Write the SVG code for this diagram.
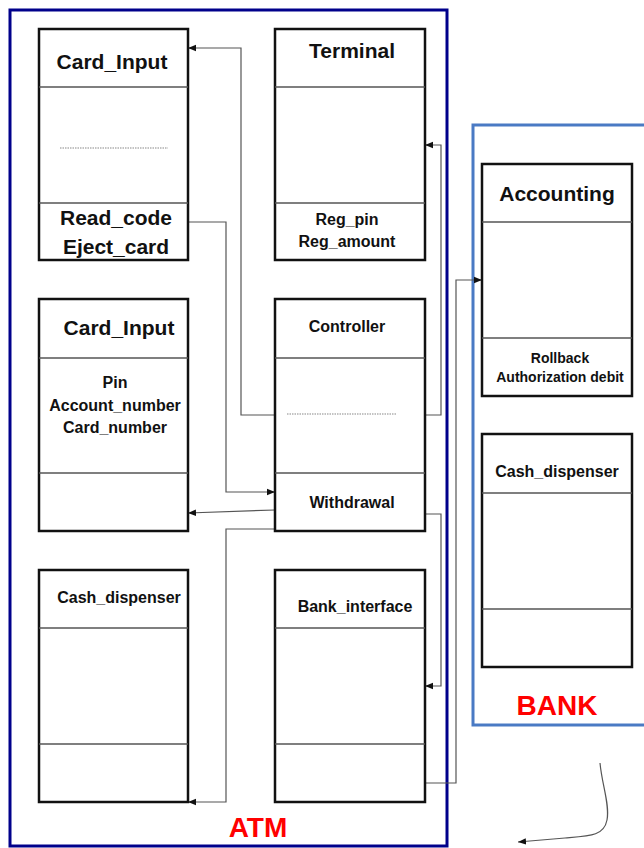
<svg xmlns="http://www.w3.org/2000/svg" width="644" height="848" viewBox="0 0 644 848">
<style>
.box{fill:#fff;stroke:#111;stroke-width:2.5}
.div{stroke:#555;stroke-width:1.5}
.dot{stroke:#888;stroke-width:1.2;stroke-dasharray:1.5 1}
.t{font-family:"Liberation Sans",Arial,sans-serif;font-weight:bold;fill:#111;text-anchor:middle}
.big{font-size:21px}
.mid{font-size:16px}
.sm{font-size:14px}
.lbl{font-family:"Liberation Sans",Arial,sans-serif;font-weight:bold;fill:#ff0000;text-anchor:middle;font-size:28px}
.c{fill:none;stroke:#555;stroke-width:1.2}
</style>
<defs>
<marker id="ah" viewBox="0 0 10 10" refX="10" refY="5" markerWidth="8" markerHeight="8" markerUnits="userSpaceOnUse" orient="auto">
<path d="M0,1 L10,5 L0,9 Z" fill="#111"/>
</marker>
</defs>
<rect width="644" height="848" fill="#fff"/>
<g id="atm">
<rect x="10" y="10" width="437" height="836" fill="none" stroke="#00008B" stroke-width="3"/>
<text class="lbl" x="258" y="837">ATM</text>
</g>
<g id="bank">
<rect x="473" y="125" width="180" height="600" fill="none" stroke="#4A7AC4" stroke-width="3"/>
<text class="lbl" x="557" y="715">BANK</text>
</g>
<g id="connectors">
<polyline class="c" points="275,415 241,415 241,48 188,48" marker-end="url(#ah)"/>
<polyline class="c" points="188,222 226,222 226,492 275,492" marker-end="url(#ah)"/>
<polyline class="c" points="425,415 441,415 441,145 425,145" marker-end="url(#ah)"/>
<line class="c" x1="275" y1="510" x2="188" y2="513" marker-end="url(#ah)"/>
<polyline class="c" points="275,529 226,529 226,802 188,802" marker-end="url(#ah)"/>
<polyline class="c" points="425,514 441,514 441,686 425,686" marker-end="url(#ah)"/>
<polyline class="c" points="425,783 456,783 456,280 482,280" marker-end="url(#ah)"/>
<path class="c" d="M600,763 C602,785 610,805 607,820 C604,836 590,836 565,838 L518,842" stroke="#222" marker-end="url(#ah)"/>
</g>
<g id="card_input_1">
<rect class="box" x="39" y="29" width="149" height="231"/>
<line class="div" x1="39" y1="87" x2="188" y2="87"/>
<line class="div" x1="39" y1="203" x2="188" y2="203"/>
<line class="dot" x1="60" y1="148" x2="168" y2="148"/>
<text class="t big" x="112" y="69">Card_Input</text>
<text class="t big" x="116" y="225">Read_code</text>
<text class="t big" x="116" y="254">Eject_card</text>
</g>
<g id="terminal">
<rect class="box" x="275" y="29" width="150" height="231"/>
<line class="div" x1="275" y1="87" x2="425" y2="87"/>
<line class="div" x1="275" y1="203" x2="425" y2="203"/>
<text class="t big" x="352" y="58">Terminal</text>
<text class="t mid" x="347" y="225">Reg_pin</text>
<text class="t mid" x="347" y="247">Reg_amount</text>
</g>
<g id="card_input_2">
<rect class="box" x="39" y="299" width="149" height="232"/>
<line class="div" x1="39" y1="358" x2="188" y2="358"/>
<line class="div" x1="39" y1="473" x2="188" y2="473"/>
<text class="t big" x="119" y="335">Card_Input</text>
<text class="t mid" x="115" y="388">Pin</text>
<text class="t mid" x="115" y="411">Account_number</text>
<text class="t mid" x="115" y="433">Card_number</text>
</g>
<g id="controller">
<rect class="box" x="275" y="299" width="150" height="232"/>
<line class="div" x1="275" y1="358" x2="425" y2="358"/>
<line class="div" x1="275" y1="473" x2="425" y2="473"/>
<line class="dot" x1="287" y1="414" x2="396" y2="414"/>
<text class="t mid" x="347" y="332">Controller</text>
<text class="t mid" x="352" y="508">Withdrawal</text>
</g>
<g id="cash_dispenser_atm">
<rect class="box" x="39" y="570" width="149" height="232"/>
<line class="div" x1="39" y1="628" x2="188" y2="628"/>
<line class="div" x1="39" y1="744" x2="188" y2="744"/>
<text class="t mid" x="119" y="603">Cash_dispenser</text>
</g>
<g id="bank_interface">
<rect class="box" x="275" y="570" width="150" height="232"/>
<line class="div" x1="275" y1="628" x2="425" y2="628"/>
<line class="div" x1="275" y1="744" x2="425" y2="744"/>
<text class="t mid" x="355" y="612">Bank_interface</text>
</g>
<g id="accounting">
<rect class="box" x="482" y="164" width="150" height="232"/>
<line class="div" x1="482" y1="222" x2="632" y2="222"/>
<line class="div" x1="482" y1="338" x2="632" y2="338"/>
<text class="t big" x="557" y="201">Accounting</text>
<text class="t sm" x="560" y="363">Rollback</text>
<text class="t sm" x="560" y="382">Authorization debit</text>
</g>
<g id="cash_dispenser_bank">
<rect class="box" x="482" y="434" width="150" height="233"/>
<line class="div" x1="482" y1="493" x2="632" y2="493"/>
<line class="div" x1="482" y1="609" x2="632" y2="609"/>
<text class="t mid" x="557" y="477">Cash_dispenser</text>
</g>
</svg>
